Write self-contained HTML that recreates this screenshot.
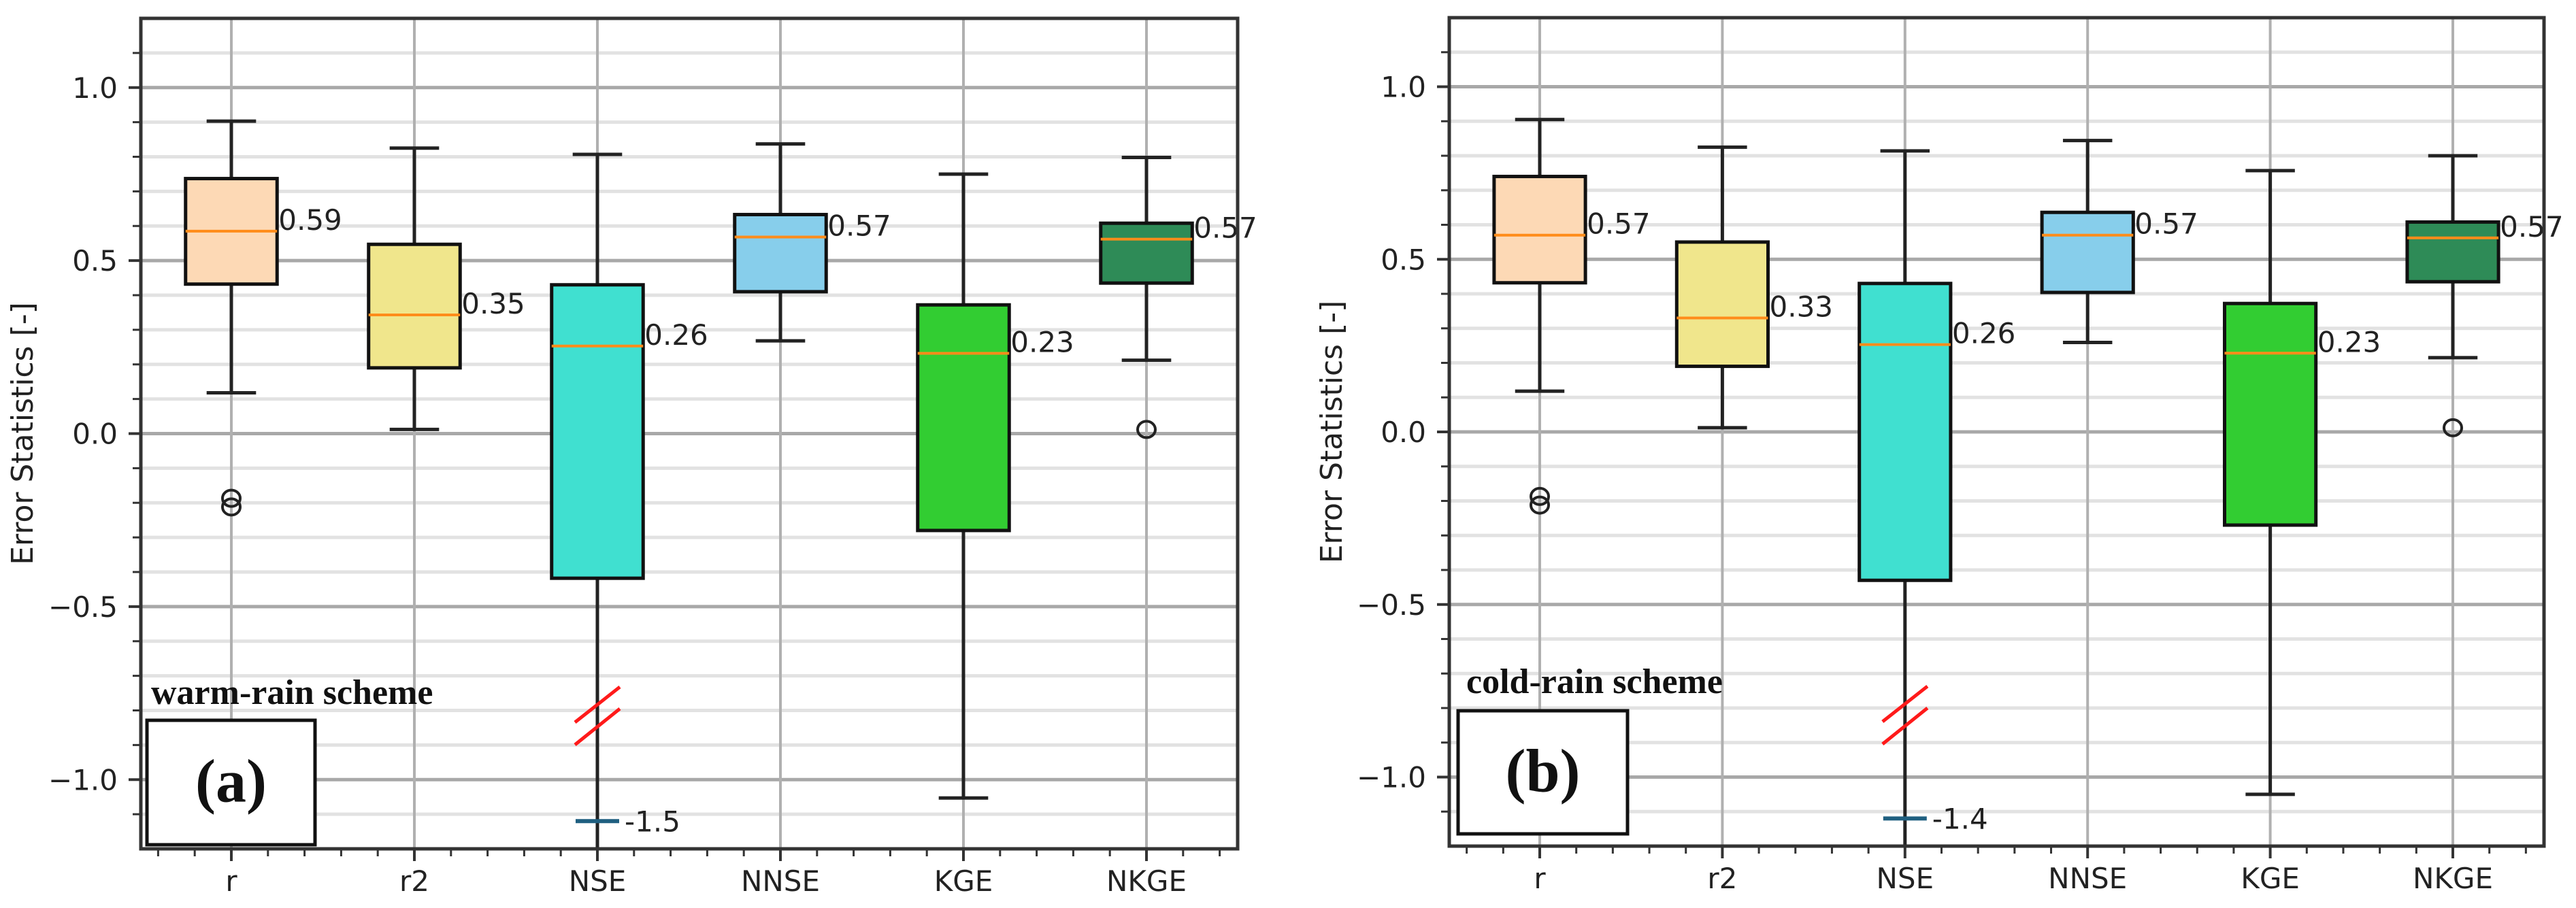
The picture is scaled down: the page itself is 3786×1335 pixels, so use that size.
<!DOCTYPE html>
<html><head><meta charset="utf-8"><style>
html,body{margin:0;padding:0;background:#fff;width:3786px;height:1335px;overflow:hidden}
svg{display:block}
</style></head><body>
<svg id="fig" width="3786" height="1335" viewBox="0 0 3786 1335" xmlns="http://www.w3.org/2000/svg"></svg>
<script>
const categories = ["r","r2","NSE","NNSE","KGE","NKGE"];
const boxColors = ["#fdd9b5","#f0e68c","#40e0d0","#87ceeb","#32cd32","#2e8b57"];
const yTicks = [1.0,0.5,0.0,-0.5,-1.0];
const yTickLabels = ["1.0","0.5","0.0","\u22120.5","\u22121.0"];
// panel (a) warm-rain
const aWhiskerHigh = [0.903,0.825,0.807,0.837,0.75,0.798];
const aQ3 = [0.737,0.547,0.43,0.633,0.372,0.608];
const aMedian = [0.585,0.343,0.253,0.568,0.232,0.562];
const aQ1 = [0.432,0.19,-0.418,0.41,-0.28,0.435];
const aWhiskerLow = [0.118,0.012,-1.2,0.268,-1.053,0.212];
const aMedianLabels = ["0.59","0.35","0.26","0.57","0.23","0.57"];
const aOutliers = [[-0.187,-0.212],[],[],[],[],[0.012]];
const aBreakValue = -1.12;
const aBreakLabel = "-1.5";
// panel (b) cold-rain
const bWhiskerHigh = [0.905,0.825,0.814,0.844,0.757,0.8];
const bQ3 = [0.74,0.55,0.43,0.636,0.372,0.608];
const bMedian = [0.57,0.33,0.253,0.57,0.228,0.562];
const bQ1 = [0.432,0.19,-0.43,0.404,-0.27,0.435];
const bWhiskerLow = [0.118,0.012,-1.2,0.259,-1.05,0.215];
const bMedianLabels = ["0.57","0.33","0.26","0.57","0.23","0.57"];
const bOutliers = [[-0.187,-0.212],[],[],[],[],[0.012]];
const bBreakValue = -1.12;
const bBreakLabel = "-1.4";

const NS = "http://www.w3.org/2000/svg";
const svg = document.getElementById('fig');
function mk(tag, attrs, parent){
  const e = document.createElementNS(NS, tag);
  for (const k in attrs) e.setAttribute(k, attrs[k]);
  (parent||svg).appendChild(e);
  return e;
}
function panel(p){
  const g = mk('g',{});
  
  
  const L=p.left,R=p.right,T=p.top,B=p.bottom;
  const y = v => T + (1.2 - v)/2.4*(B-T);
  const x = i => p.c0 + i*p.step;
  for (let k=-11;k<=11;k++){
    const v=k/10; if (k%5===0) continue;
    const l = mk('line',{x1:L,x2:R,y1:y(v),y2:y(v),stroke:'#e2e2e2','stroke-width':5},g);
    
    
    mk('line',{x1:L-12,x2:L,y1:y(v),y2:y(v),stroke:'#333','stroke-width':3},g);
  }
  yTicks.forEach((v,i)=>{
    const l = mk('line',{x1:L,x2:R,y1:y(v),y2:y(v),stroke:'#a8a8a8','stroke-width':5},g);
    
    
    mk('line',{x1:L-18,x2:L,y1:y(v),y2:y(v),stroke:'#333','stroke-width':4},g);
    const t = mk('text',{x:L-34,y:y(v)+15,'text-anchor':'end','font-size':42,'font-family':'DejaVu Sans, sans-serif',fill:'#222'},g);
    t.textContent = yTickLabels[i];
    
    
  });
  categories.forEach((c,i)=>{
    const l = mk('line',{x1:x(i),x2:x(i),y1:T,y2:B,stroke:'#b0b0b0','stroke-width':4},g);
    
    
  });
  for (let k=-2;k<=27;k++){
    const xv = p.c0 + k*p.step/5;
    if (xv<L+5||xv>R-5) continue;
    const major = k%5===0;
    mk('line',{x1:xv,x2:xv,y1:B,y2:B+(major?18:11),stroke:'#333','stroke-width':major?4:3},g);
  }
  categories.forEach((c,i)=>{
    const t = mk('text',{x:x(i),y:B+62,'text-anchor':'middle','font-size':42,'font-family':'DejaVu Sans, sans-serif',fill:'#222'},g);
    t.textContent = c;
    
    
  });
  const yl = mk('text',{x:0,y:0,'text-anchor':'middle','font-size':44,'font-family':'DejaVu Sans, sans-serif',fill:'#222',transform:`translate(${p.ylabelX},${(T+B)/2}) rotate(-90)`},g);
  yl.textContent = 'Error Statistics [-]';
  
  
  const hw = p.step*0.25, cw = p.step*0.135;
  categories.forEach((c,i)=>{
    const bg = mk('g',{},g);
    
    
    const lo = Math.max(p.lo[i],-1.2);
    mk('line',{x1:x(i),x2:x(i),y1:y(p.hi[i]),y2:y(p.q3[i]),stroke:'#222','stroke-width':5},bg);
    mk('line',{x1:x(i),x2:x(i),y1:y(p.q1[i]),y2:y(lo),stroke:'#222','stroke-width':5},bg);
    mk('line',{x1:x(i)-cw,x2:x(i)+cw,y1:y(p.hi[i]),y2:y(p.hi[i]),stroke:'#222','stroke-width':5},bg);
    if (p.lo[i]>-1.2) mk('line',{x1:x(i)-cw,x2:x(i)+cw,y1:y(lo),y2:y(lo),stroke:'#222','stroke-width':5},bg);
    mk('rect',{x:x(i)-hw,y:y(p.q3[i]),width:2*hw,height:y(p.q1[i])-y(p.q3[i]),fill:boxColors[i],stroke:'#111','stroke-width':5},bg);
    mk('line',{x1:x(i)-hw,x2:x(i)+hw,y1:y(p.med[i]),y2:y(p.med[i]),stroke:'#ff8c1a','stroke-width':4},bg);
    const t = mk('text',{x:x(i)+hw+2,y:y(p.med[i])-2,'font-size':42,'font-family':'DejaVu Sans, sans-serif',fill:'#222'},bg);
    t.textContent = p.labels[i];
    
    
    p.out[i].forEach(v=>{
      const o = mk('ellipse',{cx:x(i),cy:y(v),rx:13,ry:12,fill:'none',stroke:'#222','stroke-width':4},bg);
      
      
    });
  });
  const xn = x(2);
  const s1 = mk('line',{x1:xn-33,x2:xn+33,y1:p.slashY+52,y2:p.slashY,stroke:'#ff1a1a','stroke-width':5},g);
  
  
  const s2 = mk('line',{x1:xn-33,x2:xn+33,y1:p.slashY+85,y2:p.slashY+32,stroke:'#ff1a1a','stroke-width':5},g);
  
  
  const bm = mk('line',{x1:xn-32,x2:xn+32,y1:y(p.breakV),y2:y(p.breakV),stroke:'#1f5f80','stroke-width':6},g);
  
  
  const bt = mk('text',{x:xn+40,y:y(p.breakV)+15,'font-size':42,'font-family':'DejaVu Sans, sans-serif',fill:'#222'},g);
  bt.textContent = p.breakL;
  
  
  const fr = mk('rect',{x:L,y:T,width:R-L,height:B-T,fill:'none',stroke:'#333','stroke-width':5},g);
  
  
  const st = mk('text',{x:p.schemeX,y:p.schemeY,'font-size':52,'font-weight':'bold','font-family':'Liberation Serif, serif',fill:'#111'},g);
  st.textContent = p.scheme;
  
  
  const pb = mk('rect',{x:p.boxX,y:p.boxY,width:p.boxW,height:p.boxH,fill:'#fff',stroke:'#111','stroke-width':5},g);
  
  
  const pt = mk('text',{x:p.boxX+p.boxW/2,y:p.boxY+p.boxH/2+28,'text-anchor':'middle','font-size':90,'font-weight':'bold','font-family':'Liberation Serif, serif',fill:'#111'},g);
  pt.textContent = p.tag;
  
  
}
panel({name:'panel-a',left:207,right:1819,top:27,bottom:1248,c0:340,step:269,ylabelX:48,
  hi:aWhiskerHigh,q3:aQ3,med:aMedian,q1:aQ1,lo:aWhiskerLow,labels:aMedianLabels,out:aOutliers,
  breakV:aBreakValue,breakL:aBreakLabel,slashY:1010,
  scheme:'warm-rain scheme',schemeX:222,schemeY:1035,boxX:216,boxY:1059,boxW:247,boxH:183,tag:'(a)'});
panel({name:'panel-b',left:2130,right:3739,top:26,bottom:1244,c0:2263,step:268.4,ylabelX:1972,
  hi:bWhiskerHigh,q3:bQ3,med:bMedian,q1:bQ1,lo:bWhiskerLow,labels:bMedianLabels,out:bOutliers,
  breakV:bBreakValue,breakL:bBreakLabel,slashY:1009,
  scheme:'cold-rain scheme',schemeX:2155,schemeY:1019,boxX:2143,boxY:1045,boxW:249,boxH:181,tag:'(b)'});
</script>
</body></html>
